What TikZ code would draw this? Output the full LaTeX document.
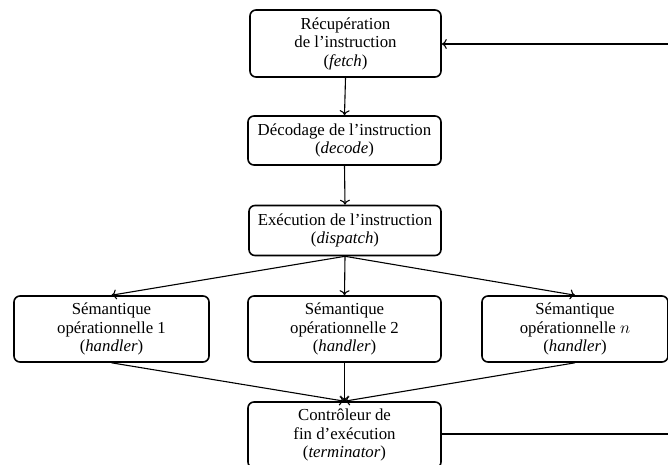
\documentclass[tikz,border=0pt]{standalone}
\usepackage{fontspec}
\setmainfont{Liberation Serif}
\usetikzlibrary{arrows.meta}
\begin{document}
\begin{tikzpicture}[x=1pt,y=-1pt,
  box/.style={draw,line width=1.6pt,rounded corners=6pt,align=center,inner sep=0pt,
    font=\fontsize{16.8}{18.5}\selectfont},
  conn/.style={line width=1.1pt,-{To[length=5pt,width=10pt]}}]
\useasboundingbox (0,0) rectangle (668,464);
\node[box,minimum width=191pt,minimum height=67pt] (fetch) at (345.5,43.5) {Récupération\\de l’instruction\\(\textit{fetch})};
\node[box,minimum width=193pt,minimum height=49pt] (decode) at (344.5,140.5) {Décodage de l’instruction\\(\textit{decode})};
\node[box,minimum width=192pt,minimum height=50pt] (dispatch) at (345,230.5) {Exécution de l’instruction\\(\textit{dispatch})};
\node[box,minimum width=195pt,minimum height=66pt] (h1) at (111.5,329) {Sémantique\\opérationnelle 1\\(\textit{handler})};
\node[box,minimum width=193pt,minimum height=66pt] (h2) at (344.5,329) {Sémantique\\opérationnelle 2\\(\textit{handler})};
\node[box,minimum width=186pt,minimum height=66pt] (hn) at (575,329) {Sémantique\\opérationnelle $n$\\(\textit{handler})};
\node[box,minimum width=193pt,minimum height=66pt] (term) at (344.5,435) {Contrôleur de\\fin d’exécution\\(\textit{terminator})};
\coordinate (rb) at (671,434);
\coordinate (rt) at (671,44);
\draw[conn] (fetch.south) -- (decode.north);
\draw[conn] (decode.south) -- (dispatch.north);
\draw[conn] (dispatch.south) -- (h1.north);
\draw[conn] (dispatch.south) -- (h2.north);
\draw[conn] (dispatch.south) -- (hn.north);
\draw[conn] (h1.south) -- (term.north);
\draw[conn] (h2.south) -- (term.north);
\draw[conn] (hn.south) -- (term.north);
\draw[conn] (term.east |- rb) -- (rb) -- (rt) -- (fetch.east |- rt);
\end{tikzpicture}
\end{document}
